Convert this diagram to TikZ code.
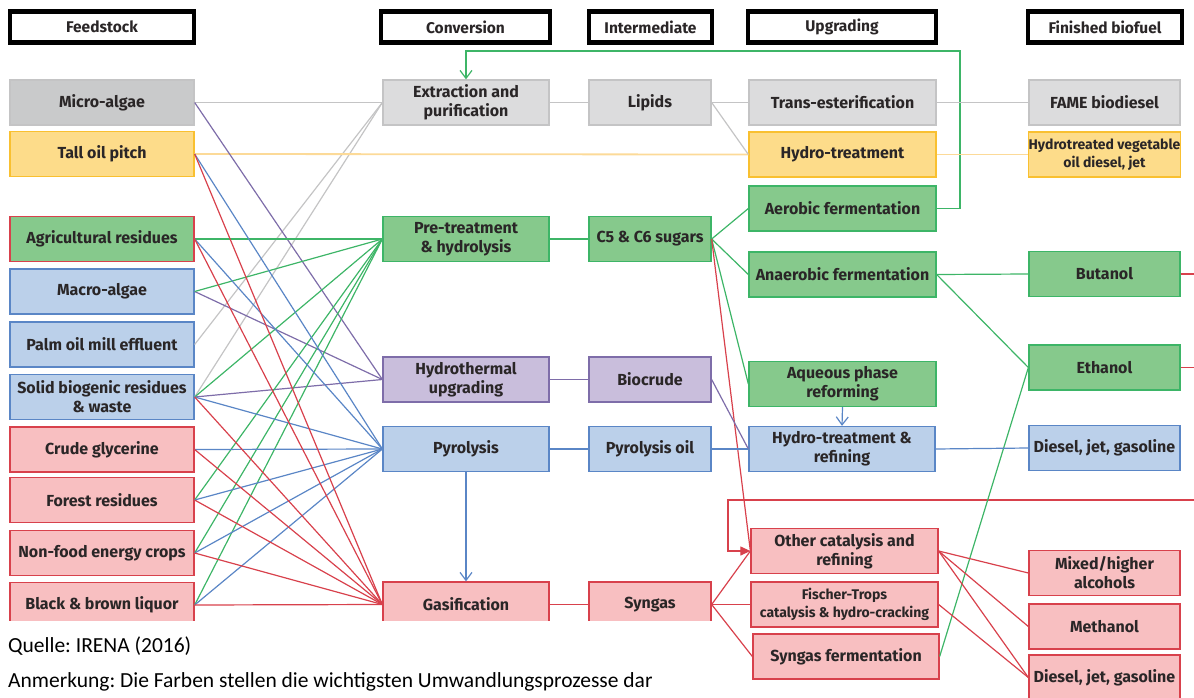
\documentclass[tikz,border=0pt]{standalone}
\usepackage{fontspec}
\setmainfont{Fira Sans}
\newfontfamily\capfont{Carlito}
\usetikzlibrary{arrows.meta}
\frenchspacing

\definecolor{txt}{HTML}{2A2627}
\definecolor{greyfill}{HTML}{DCDCDD}
\definecolor{greydark}{HTML}{C9CACB}
\definecolor{greyline}{HTML}{C4C4C5}
\definecolor{yelfill}{HTML}{FDDC8A}
\definecolor{yelline}{HTML}{F9C030}
\definecolor{yelwire}{HTML}{FCDA98}
\definecolor{grnfill}{HTML}{86C98C}
\definecolor{grnline}{HTML}{3DB567}
\definecolor{purfill}{HTML}{C9BEDC}
\definecolor{purline}{HTML}{7E6DA9}
\definecolor{blufill}{HTML}{BBD0EA}
\definecolor{bluline}{HTML}{5A86C6}
\definecolor{redfill}{HTML}{F8BFC1}
\definecolor{redline}{HTML}{D8414C}

\tikzset{
  box/.style={draw, line width=1.3pt, minimum height=45pt, align=center,
    text=txt, font=\bfseries\fontsize{16}{19}\selectfont},
  small/.style={font=\bfseries\fontsize{14}{18}\selectfont},
  head/.style={draw=black, line width=4.5pt, fill=white, minimum height=31pt,
    text=txt, font=\bfseries\fontsize{15.5}{18}\selectfont},
  gbox/.style={box, fill=greyfill, draw=greyline},
  ybox/.style={box, fill=yelfill, draw=yelline},
  nbox/.style={box, fill=grnfill, draw=grnline},
  pbox/.style={box, fill=purfill, draw=purline},
  bbox/.style={box, fill=blufill, draw=bluline},
  rbox/.style={box, fill=redfill, draw=redline},
  gwire/.style={draw=greyline, line width=1.2pt},
  ywire/.style={draw=yelwire, line width=1.8pt},
  nwire/.style={draw=grnline, line width=1.2pt},
  pwire/.style={draw=purline, line width=1.2pt},
  bwire/.style={draw=bluline, line width=1.2pt},
  rwire/.style={draw=redline, line width=1.2pt},
  open/.style={-{Straight Barb[length=8pt,width=12pt]}},
  shut/.style={-{Triangle[length=10pt,width=9pt]}}
}

\begin{document}
\begin{tikzpicture}[x=1pt, y=-1pt]
    \tikzstyle{every node}+=[inner sep=0pt]
    \useasboundingbox (0,0) rectangle (1194,698);
    \clip (0,0) rectangle (1194,698);

    \node [head, minimum width=184pt] (hfeed) at (102,27) {Feedstock};
    \node [head, minimum width=169pt] (hconv) at (465.5,27) {Conversion};
    \node [head, minimum width=123pt] (hinter) at (650.5,27) {Intermediate};
    \node [head, minimum width=188pt] (hupgr) at (842,27) {Upgrading};
    \node [head, minimum width=154pt] (hfin) at (1105,27) {Finished biofuel};

    \node [gbox, fill=greydark, minimum width=184pt] (micro) at (102,102.5) {Micro-algae};
    \node [ybox, minimum width=184pt] (tall) at (102,154) {Tall oil pitch};
    \node [nbox, draw=redline, minimum width=184pt] (agri) at (102,239) {Agricultural residues};
    \node [bbox, minimum width=184pt] (macro) at (102,291.5) {Macro-algae};
    \node [bbox, minimum width=184pt] (palm) at (102,344.5) {Palm oil mill effluent};
    \node [bbox, minimum width=184pt] (solid) at (102,397) {Solid biogenic residues\\ \& waste};
    \node [rbox, minimum width=184pt] (glyc) at (102,449.5) {Crude glycerine};
    \node [rbox, minimum width=184pt] (forest) at (102,500) {Forest residues};
    \node [rbox, minimum width=184pt] (crops) at (102,553) {Non-food energy crops};
    \node [rbox, minimum width=184pt] (liquor) at (102,605) {Black \& brown liquor};

    \node [gbox, minimum width=166pt] (extr) at (466,102.5) {Extraction and\\ purification};
    \node [nbox, minimum width=166pt] (pretr) at (466,239) {Pre-treatment\\ \& hydrolysis};
    \node [pbox, minimum width=166pt] (hydrot) at (466,379.5) {Hydrothermal\\ upgrading};
    \node [bbox, minimum width=166pt] (pyro) at (466,449) {Pyrolysis};
    \node [rbox, minimum width=166pt] (gasif) at (466,604.5) {Gasification};

    \node [gbox, minimum width=122pt] (lipids) at (650,102.5) {Lipids};
    \node [nbox, minimum width=122pt] (sugars) at (650,239) {C5 \& C6 sugars};
    \node [pbox, minimum width=122pt] (biocrude) at (650,379.5) {Biocrude};
    \node [bbox, minimum width=122pt] (pyoil) at (650,449) {Pyrolysis oil};
    \node [rbox, minimum width=122pt] (syngas) at (650,604.5) {Syngas};

    \node [gbox, minimum width=187pt] (trans) at (842.5,102.5) {Trans-esterification};
    \node [ybox, minimum width=187pt] (hydro) at (842.5,154.5) {Hydro-treatment};
    \node [nbox, minimum width=187pt] (aerob) at (842.5,208.5) {Aerobic fermentation};
    \node [nbox, minimum width=187pt] (anaerob) at (842.5,274.5) {Anaerobic fermentation};
    \node [nbox, minimum width=187pt] (aqueous) at (842.5,384) {Aqueous phase\\ reforming};
    \node [bbox, minimum width=186pt] (refine) at (842,449) {Hydro-treatment \&\\ refining};
    \node [rbox, minimum width=187pt] (othercat) at (844.5,551) {Other catalysis and\\ refining};
    \node [rbox, small, minimum width=187pt] (fischer) at (844.5,604.5) {Fischer-Trops\\ catalysis \& hydro-cracking};
    \node [rbox, minimum width=186pt] (synferm) at (846,656.5) {Syngas fermentation};

    \node [gbox, minimum width=151pt] (fame) at (1104.5,102.5) {FAME biodiesel};
    \node [ybox, small, minimum width=151pt] (hvo) at (1104.5,154.5) {Hydrotreated vegetable\\ oil diesel, jet};
    \node [nbox, minimum width=151pt] (butanol) at (1104.5,274) {Butanol};
    \node [nbox, minimum width=151pt] (ethanol) at (1104.5,367.5) {Ethanol};
    \node [bbox, minimum width=151pt] (diesela) at (1104.5,448) {Diesel, jet, gasoline};
    \node [rbox, minimum width=151pt] (mixed) at (1104.5,573) {Mixed/higher\\ alcohols};
    \node [rbox, minimum width=151pt] (methanol) at (1104.5,626.5) {Methanol};
    \node [rbox, minimum width=151pt] (dieselb) at (1104.5,677.5) {Diesel, jet, gasoline};

    \draw [gwire] (micro.east) -- (extr.west);
    \draw [gwire] (palm.east) -- (extr.west);
    \draw [gwire] (solid.east) -- (extr.west);
    \draw [ywire] (tall.east) -- (hydro.west);
    \draw [pwire] (micro.east) -- (hydrot.west);
    \draw [pwire] (macro.east) -- (hydrot.west);
    \draw [pwire] (solid.east) -- (hydrot.west);
    \draw [nwire] (agri.east) -- (pretr.west);
    \draw [nwire] (macro.east) -- (pretr.west);
    \draw [nwire] (solid.east) -- (pretr.west);
    \draw [nwire] (forest.east) -- (pretr.west);
    \draw [nwire] (crops.east) -- (pretr.west);
    \draw [nwire] (liquor.east) -- (pretr.west);
    \draw [bwire] (tall.east) -- (pyro.west);
    \draw [bwire] (agri.east) -- (pyro.west);
    \draw [bwire] (solid.east) -- (pyro.west);
    \draw [bwire] (glyc.east) -- (pyro.west);
    \draw [bwire] (forest.east) -- (pyro.west);
    \draw [bwire] (crops.east) -- (pyro.west);
    \draw [bwire] (liquor.east) -- (pyro.west);
    \draw [rwire] (tall.east) -- (gasif.west);
    \draw [rwire] (agri.east) -- (gasif.west);
    \draw [rwire] (solid.east) -- (gasif.west);
    \draw [rwire] (glyc.east) -- (gasif.west);
    \draw [rwire] (forest.east) -- (gasif.west);
    \draw [rwire] (crops.east) -- (gasif.west);
    \draw [rwire] (liquor.east) -- (gasif.west);

    \draw [gwire] (extr.east) -- (lipids.west);
    \draw [nwire] (pretr.east) -- (sugars.west);
    \draw [pwire] (hydrot.east) -- (biocrude.west);
    \draw [bwire] (pyro.east) -- (pyoil.west);
    \draw [rwire] (gasif.east) -- (syngas.west);
    \draw [bwire, open] (pyro.south) -- (gasif.north);

    \draw [gwire] (lipids.east) -- (trans.west);
    \draw [gwire] (lipids.east) -- (hydro.west);
    \draw [nwire] (sugars.east) -- (aerob.west);
    \draw [nwire] (sugars.east) -- (anaerob.west);
    \draw [nwire] (sugars.east) -- (aqueous.west);
    \draw [rwire] (sugars.east) -- (othercat.west);
    \draw [pwire] (biocrude.east) -- (refine.west);
    \draw [bwire] (pyoil.east) -- (refine.west);
    \draw [bwire, open] (aqueous.south) -- (refine.north);
    \draw [rwire] (syngas.east) -- (othercat.west);
    \draw [rwire] (syngas.east) -- (fischer.west);
    \draw [rwire] (syngas.east) -- (synferm.west);

    \coordinate (loopa) at (960,51);
    \draw [nwire, open] (aerob.east) -| (loopa) -| (extr.north);
    \coordinate (loopb) at (1194,500);
    \coordinate (loopc) at (728,551);
    \draw [rwire, shut] (loopb) -| (loopc) -- (othercat.west);

    \draw [gwire] (trans.east) -- (fame.west);
    \draw [ywire] (hydro.east) -- (hvo.west);
    \draw [nwire] (anaerob.east) -- (butanol.west);
    \draw [nwire] (anaerob.east) -- (ethanol.west);
    \draw [nwire] (synferm.east) -- (ethanol.west);
    \draw [bwire] (refine.east) -- (diesela.west);
    \draw [rwire] (othercat.east) -- (mixed.west);
    \draw [rwire] (othercat.east) -- (methanol.west);
    \draw [rwire] (othercat.east) -- (dieselb.west);
    \draw [rwire] (fischer.east) -- (dieselb.west);
    \coordinate (outa) at (1194,274);
    \coordinate (outb) at (1194,367.5);
    \draw [rwire] (butanol.east) -- (outa);
    \draw [rwire] (ethanol.east) -- (outb);

    \fill [white] (0,621) rectangle (716,698);
    \node [anchor=base west, font=\capfont\fontsize{21.5}{24}\selectfont] (src) at (8,652) {Quelle: IRENA (2016)};
    \node [anchor=base west, font=\capfont\fontsize{21.5}{24}\selectfont] (note) at (8,687) {Anmerkung: Die Farben stellen die wichtigsten Umwandlungsprozesse dar};
\end{tikzpicture}
\end{document}
